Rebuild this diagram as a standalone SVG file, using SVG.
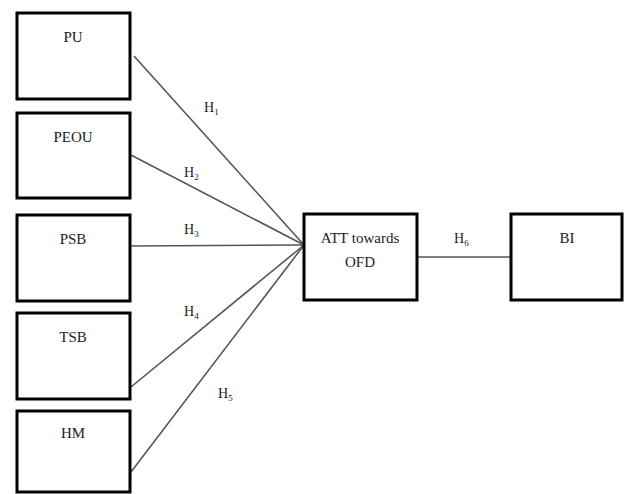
<svg xmlns="http://www.w3.org/2000/svg" width="624" height="494" viewBox="0 0 624 494">
<style>
.box{fill:#fff;stroke:#000;stroke-width:3}
.t{font-family:'Liberation Serif','Times New Roman','DejaVu Serif',serif;font-size:15px;fill:#222;text-anchor:middle}
.h{font-family:'Liberation Serif','Times New Roman','DejaVu Serif',serif;font-size:14px;fill:#222}
.s{font-size:9px}
.c{stroke:#555;stroke-width:1.6;fill:none}
</style>
<rect width="624" height="494" fill="#fff"/>
<g id="connectors">
<line class="c" x1="134" y1="56" x2="304" y2="245"/>
<line class="c" x1="131" y1="155" x2="304" y2="245"/>
<line class="c" x1="131" y1="246" x2="304" y2="245"/>
<line class="c" x1="131" y1="387" x2="304" y2="245"/>
<line class="c" x1="131" y1="472" x2="304" y2="245"/>
<line class="c" x1="417" y1="257" x2="511" y2="257"/>
<text class="h" x="204" y="112">H<tspan class="s" dy="3">1</tspan></text>
<text class="h" x="184" y="177">H<tspan class="s" dy="3">2</tspan></text>
<text class="h" x="184" y="234">H<tspan class="s" dy="3">3</tspan></text>
<text class="h" x="184" y="316">H<tspan class="s" dy="3">4</tspan></text>
<text class="h" x="218" y="398">H<tspan class="s" dy="3">5</tspan></text>
<text class="h" x="454" y="243">H<tspan class="s" dy="3">6</tspan></text>
</g>
<g id="PU"><rect class="box" x="17" y="13" width="113" height="86"/><text class="t" x="73" y="42">PU</text></g>
<g id="PEOU"><rect class="box" x="17" y="113" width="113" height="85"/><text class="t" x="73" y="142">PEOU</text></g>
<g id="PSB"><rect class="box" x="17" y="215" width="113" height="86"/><text class="t" x="73" y="244">PSB</text></g>
<g id="TSB"><rect class="box" x="17" y="313" width="113" height="86"/><text class="t" x="73" y="342">TSB</text></g>
<g id="HM"><rect class="box" x="17" y="411" width="113" height="81"/><text class="t" x="73" y="438">HM</text></g>
<g id="ATT"><rect class="box" x="304" y="214" width="113" height="86"/><text class="t" x="360" y="243">ATT towards</text><text class="t" x="360" y="267">OFD</text></g>
<g id="BI"><rect class="box" x="511" y="214" width="111" height="86"/><text class="t" x="567" y="243">BI</text></g>
</svg>
